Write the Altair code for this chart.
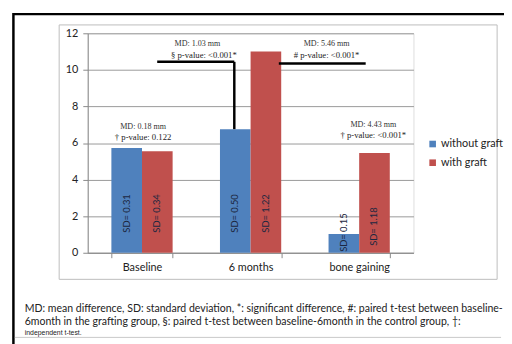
import altair as alt
import pandas as pd

# ---- data ----
categories = ["Baseline", "6 months", "bone gaining"]
series = ["without graft", "with graft"]
without_graft = [5.73, 6.76, 1.03]
with_graft = [5.55, 11.01, 5.46]
sd_without = ["0.31", "0.50", "0.15"]
sd_with = ["0.34", "1.22", "1.18"]

md_labels = ["MD: 0.18 mm", "MD: 1.03 mm", "MD: 5.46 mm", "MD: 4.43 mm"]
p_labels = ["† p-value: 0.122", "§ p-value: <0.001*", "# p-value: <0.001*", "† p-value: <0.001*"]

caption_lines = [
    "MD: mean difference, SD: standard deviation, *: significant difference, #: paired t-test between baseline-",
    "6month in the grafting group, §: paired t-test between baseline-6month in the control group, †:",
]
caption_small = "independent t-test."

colors = ["#4F81BD", "#C0504D"]

# ---- tables ----
rows = []
for i, c in enumerate(categories):
    rows.append({"category": c, "series": series[0], "value": without_graft[i], "sd": "SD= " + sd_without[i]})
    rows.append({"category": c, "series": series[1], "value": with_graft[i], "sd": "SD= " + sd_with[i]})
bars_df = pd.DataFrame(rows)

# annotation anchor positions (category index axis 0..3, value axis)
ann_x = [0.51, 1.01, 2.2, 2.63]
p_x = [0.51, 1.07, 2.2, 2.63]
md_y = [6.89, 11.43, 11.43, 6.98]
p_y = [6.35, 10.83, 10.83, 6.44]
ann_df = pd.DataFrame({"x": ann_x, "px": p_x, "md": md_labels, "p": p_labels, "md_y": md_y, "p_y": p_y})

brackets_df = pd.DataFrame({
    "x": [0.64, 1.35, 1.76],
    "x2": [1.35, 1.35, 2.56],
    "y": [10.44, 10.44, 10.35],
    "y2": [10.44, without_graft[1], 10.35],
})

one = pd.DataFrame({"a": [0]})

W, H = 331, 223

band_scale = alt.Scale(domain=categories, paddingInner=0.436, paddingOuter=0.218)
x_enc = alt.X("category:N", sort=categories, title=None, scale=band_scale,
              axis=alt.Axis(labelAngle=0, tickBand="extent", labelFontSize=11, labelFont="Lato",
                            labelColor="#222", tickSize=5, tickColor="#888", domainColor="#888",
                            labelPadding=4, grid=False))
xo_enc = alt.XOffset("series:N", sort=series, scale=alt.Scale(paddingInner=0, paddingOuter=0))
y_scale = alt.Scale(domain=[0, 12], nice=False)
y_axis = alt.Axis(values=[0, 2, 4, 6, 8, 10, 12], labelFontSize=11, labelFont="Lato",
                  labelColor="#222", tickSize=5, tickColor="#888", domainColor="#888",
                  gridColor="#999", gridWidth=1, labelPadding=5, labelOverlap=False, title=None)

bars = alt.Chart(bars_df).mark_bar().encode(
    x=x_enc,
    xOffset=xo_enc,
    y=alt.Y("value:Q", scale=y_scale, axis=y_axis),
    color=alt.Color("series:N", sort=series, scale=alt.Scale(domain=series, range=colors),
                    legend=alt.Legend(title=None, orient="none", legendX=345, legendY=107,
                                      symbolType="square", symbolSize=45, labelFontSize=11,
                                      labelFont="Lato", labelColor="#222", rowPadding=7,
                                      symbolStrokeWidth=0, labelOffset=3)),
)

sd_text = alt.Chart(bars_df).transform_calculate(
    pos="datum.category == 'bone gaining' ? (datum.series == 'with graft' ? 0.38 : 0.05) : 1.1"
).mark_text(angle=270, align="left", baseline="middle", fontSize=9.5, font="Lato",
            color="#1c2740").encode(
    x=alt.X("category:N", sort=categories, scale=band_scale, axis=None),
    xOffset=xo_enc,
    y=alt.Y("pos:Q", scale=y_scale, axis=y_axis),
    text="sd:N",
)

qx = alt.Scale(domain=[0, 3])
md_text = alt.Chart(ann_df).mark_text(fontSize=8.2, font="Liberation Serif", color="#333").encode(
    x=alt.X("x:Q", scale=qx, axis=None),
    y=alt.Y("md_y:Q", scale=y_scale, axis=y_axis),
    text="md:N",
)
p_text = alt.Chart(ann_df).mark_text(fontSize=8.8, font="Liberation Serif", color="#222").encode(
    x=alt.X("px:Q", scale=qx, axis=None),
    y=alt.Y("p_y:Q", scale=y_scale, axis=y_axis),
    text="p:N",
)
brackets = alt.Chart(brackets_df).mark_rule(color="black", strokeWidth=2.5).encode(
    x=alt.X("x:Q", scale=qx, axis=None),
    x2="x2:Q",
    y=alt.Y("y:Q", scale=y_scale, axis=y_axis),
    y2="y2:Q",
)

# frames and caption (page decoration, in pixels relative to plot origin)
gray_frame = alt.Chart(one).mark_rect(fillOpacity=0, stroke="#bdbdbd", strokeWidth=1).encode(
    x=alt.value(-29), x2=alt.value(416), y=alt.value(-8.5), y2=alt.value(250))
black_frame = alt.Chart(one).mark_rect(fillOpacity=0, stroke="black", strokeWidth=2.5).encode(
    x=alt.value(-75.5), x2=alt.value(520), y=alt.value(-19.5), y2=alt.value(400))
bottom_line = alt.Chart(one).mark_rule(color="#c8c8c8", strokeWidth=1).encode(
    x=alt.value(-74), x2=alt.value(420), y=alt.value(309))

cap_df = pd.DataFrame({"t": caption_lines, "row": [0, 1]})
cap = alt.Chart(cap_df).transform_calculate(py="280 + datum.row * 13").mark_text(
    align="left", baseline="middle", fontSize=10.7, font="Lato", color="#222").encode(
    x=alt.value(-64), y=alt.Y("py:Q", scale=None), text="t:N")
cap2 = alt.Chart(pd.DataFrame({"t": [caption_small]})).mark_text(
    align="left", baseline="middle", fontSize=7, font="Liberation Sans", color="#222").encode(
    x=alt.value(-64), y=alt.value(305), text="t:N")

chart = alt.layer(
    gray_frame, black_frame, bottom_line, bars, sd_text, brackets, md_text, p_text, cap, cap2
).resolve_scale(x="independent").properties(
    width=W, height=H,
    autosize=alt.AutoSizeParams(type="none"),
    padding={"left": 81, "top": 23, "right": 92, "bottom": 90},
).configure_view(stroke=None).configure(background="white")

chart.save("out.html", embed_options={"renderer": "svg", "actions": False})
